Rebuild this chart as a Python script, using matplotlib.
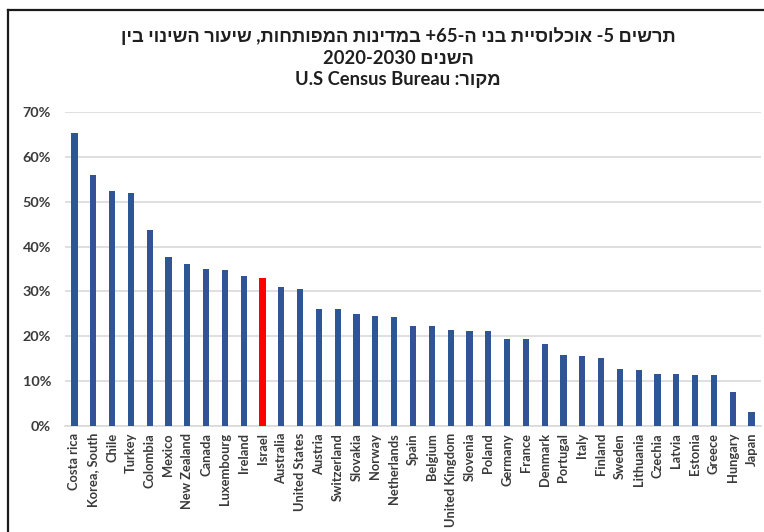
import re
import matplotlib
matplotlib.use("Agg")
import matplotlib.pyplot as plt
from matplotlib.lines import Line2D
from matplotlib.ticker import PercentFormatter

countries = [
    "Costa rica", "Korea, South", "Chile", "Turkey", "Colombia", "Mexico",
    "New Zealand", "Canada", "Luxembourg", "Ireland", "Israel", "Australia",
    "United States", "Austria", "Switzerland", "Slovakia", "Norway",
    "Netherlands", "Spain", "Belgium", "United Kingdom", "Slovenia", "Poland",
    "Germany", "France", "Denmark", "Portugal", "Italy", "Finland", "Sweden",
    "Lithuania", "Czechia", "Latvia", "Estonia", "Greece", "Hungary", "Japan",
]
growth = [
    65.3, 56.0, 52.3, 52.0, 43.7, 37.6, 36.1, 35.0, 34.8, 33.4, 33.1, 31.0,
    30.5, 26.1, 26.1, 24.9, 24.6, 24.3, 22.4, 22.3, 21.3, 21.1, 21.1,
    19.3, 19.3, 18.2, 15.8, 15.6, 15.1, 12.7, 12.4, 11.6, 11.5, 11.3, 11.3,
    7.5, 3.2,
]
highlight = "Israel"

title_lines = [
    "תרשים 5- אוכלוסיית בני ה-65+ במדינות המפותחות, שיעור השינוי בין",
    "השנים 2020-2030",
    "מקור: U.S Census Bureau",
]


def visual(text):
    # crude RTL reordering: flip the line, then flip latin/digit runs back
    rev = text[::-1]
    return re.sub(r"[A-Za-z0-9][A-Za-z0-9 .\-]*[A-Za-z0-9]|[A-Za-z0-9]",
                  lambda m: m.group(0)[::-1], rev)


latin = ["Lato", "Liberation Sans", "DejaVu Sans"]
text_color = "#3a3a3a"

fig = plt.figure(figsize=(7.64, 5.32), dpi=100)
ax = fig.add_axes([65 / 764, 1 - 426 / 532, (761 - 65) / 764, (426 - 112) / 532])

colors = ["#FF0000" if c == highlight else "#2F5597" for c in countries]
x = list(range(len(countries)))
ax.bar(x, growth, width=0.33, color=colors, zorder=3)

ax.set_xlim(-0.5, len(countries) - 0.5)
ax.set_ylim(0, 70)
ax.set_yticks(range(0, 71, 10))
ax.yaxis.set_major_formatter(PercentFormatter(decimals=0))
ax.set_xticks(x)
ax.set_xticklabels(countries, rotation=90, va="top", ha="center")
for lab in ax.get_xticklabels():
    lab.set_fontsize(9.3)
for lab in ax.get_yticklabels():
    lab.set_fontsize(10.4)
for lab in ax.get_xticklabels() + ax.get_yticklabels():
    lab.set_family(latin)
    lab.set_fontweight("bold")
    lab.set_color(text_color)
ax.tick_params(axis="y", length=0, pad=10)
ax.tick_params(axis="x", length=0, pad=5)
ax.grid(axis="y", color="#d9d9d9", linewidth=1.2, zorder=0)
for side in ["left", "right", "top"]:
    ax.spines[side].set_visible(False)
ax.spines["bottom"].set_color("#d9d9d9")
ax.spines["bottom"].set_linewidth(1.2)

ys = [1 - 36 / 532, 1 - 58 / 532, 1 - 80 / 532]
for line, yy in zip(title_lines, ys):
    fig.text(398 / 764, yy, visual(line), ha="center", va="center",
             fontsize=13.2, fontweight="bold", family=latin, color="#1f1f1f")

# outer frame (top and left edges visible in the crop)
fig.add_artist(Line2D([8 / 764, 8 / 764], [0, 1 - 10 / 532],
                      transform=fig.transFigure, color="#1a1a1a", linewidth=1.6))
fig.add_artist(Line2D([8 / 764, 1], [1 - 10 / 532, 1 - 10 / 532],
                      transform=fig.transFigure, color="#1a1a1a", linewidth=1.6))

fig.savefig("out.png", dpi=100)
